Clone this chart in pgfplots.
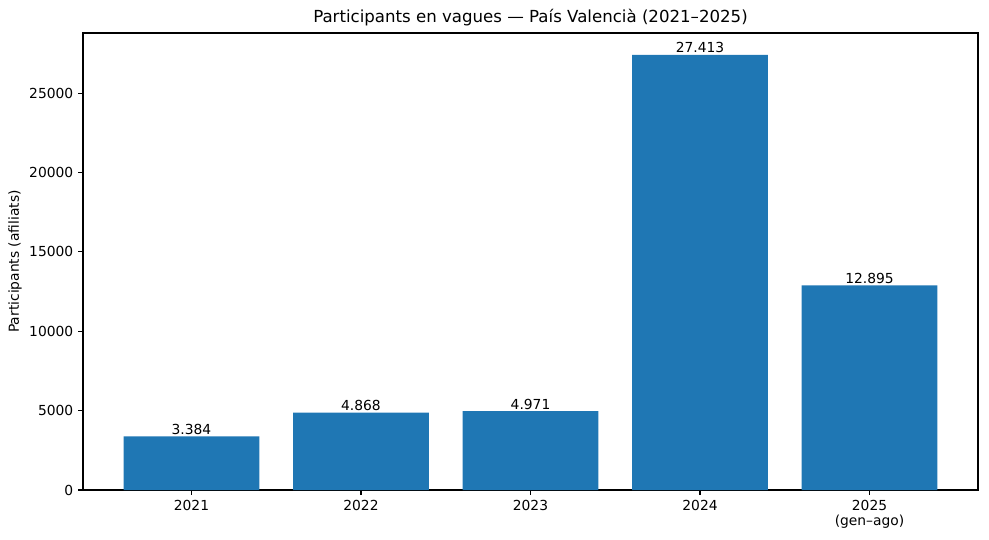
\documentclass[border=0pt]{standalone}
\usepackage{fontspec}
\setmainfont{DejaVu Sans}
\usepackage{pgfplots}
\pgfplotsset{compat=1.18}
\definecolor{mplblue}{HTML}{1F77B4}
\begin{document}
\begin{tikzpicture}
\begin{axis}[
  at={(0,0)}, anchor=south west,
  scale only axis,
  width=644.4bp, height=329bp,
  xmin=-0.64, xmax=4.64,
  ymin=0, ymax=28784,
  xtick={0,1,2,3,4},
  xticklabels={2021,2022,2023,2024,{2025\\(gen–ago)}},
  xticklabel style={align=center, font=\fontsize{10}{11}\selectfont},
  ytick={0,5000,10000,15000,20000,25000},
  yticklabel style={font=\fontsize{10}{11}\selectfont},
  /pgf/number format/1000 sep={},
  /pgf/number format/assume math mode=true,
  scaled y ticks=false,
  tick align=outside,
  major tick length=3.5bp,
  tick style={line width=0.8bp, black},
  axis line style={line width=0.8bp},
  xtick pos=bottom, ytick pos=left,
  ylabel={Participants (afiliats)},
  ylabel style={at={(axis description cs:0,0.5)}, anchor=center, rotate=0, yshift=49bp, font=\fontsize{10}{11}\selectfont},
  title={Participants en vagues — País Valencià (2021–2025)},
  title style={at={(axis description cs:0.5,1)}, anchor=center, yshift=5bp, font=\fontsize{12}{14}\selectfont},
  point meta=explicit symbolic,
  nodes near coords,
  nodes near coords style={font=\fontsize{10}{11}\selectfont, anchor=south, inner sep=1bp, yshift=0bp},
]
\addplot[ybar, bar width=0.8, fill=mplblue, draw=none] coordinates {
  (0,3384) [3.384]
  (1,4868) [4.868]
  (2,4971) [4.971]
  (3,27413) [27.413]
  (4,12895) [12.895]
};
\end{axis}
\pgfresetboundingbox
\path[use as bounding box] (-59.76bp,-36bp) rectangle (652.32bp,352.8bp);
\end{tikzpicture}
\end{document}
